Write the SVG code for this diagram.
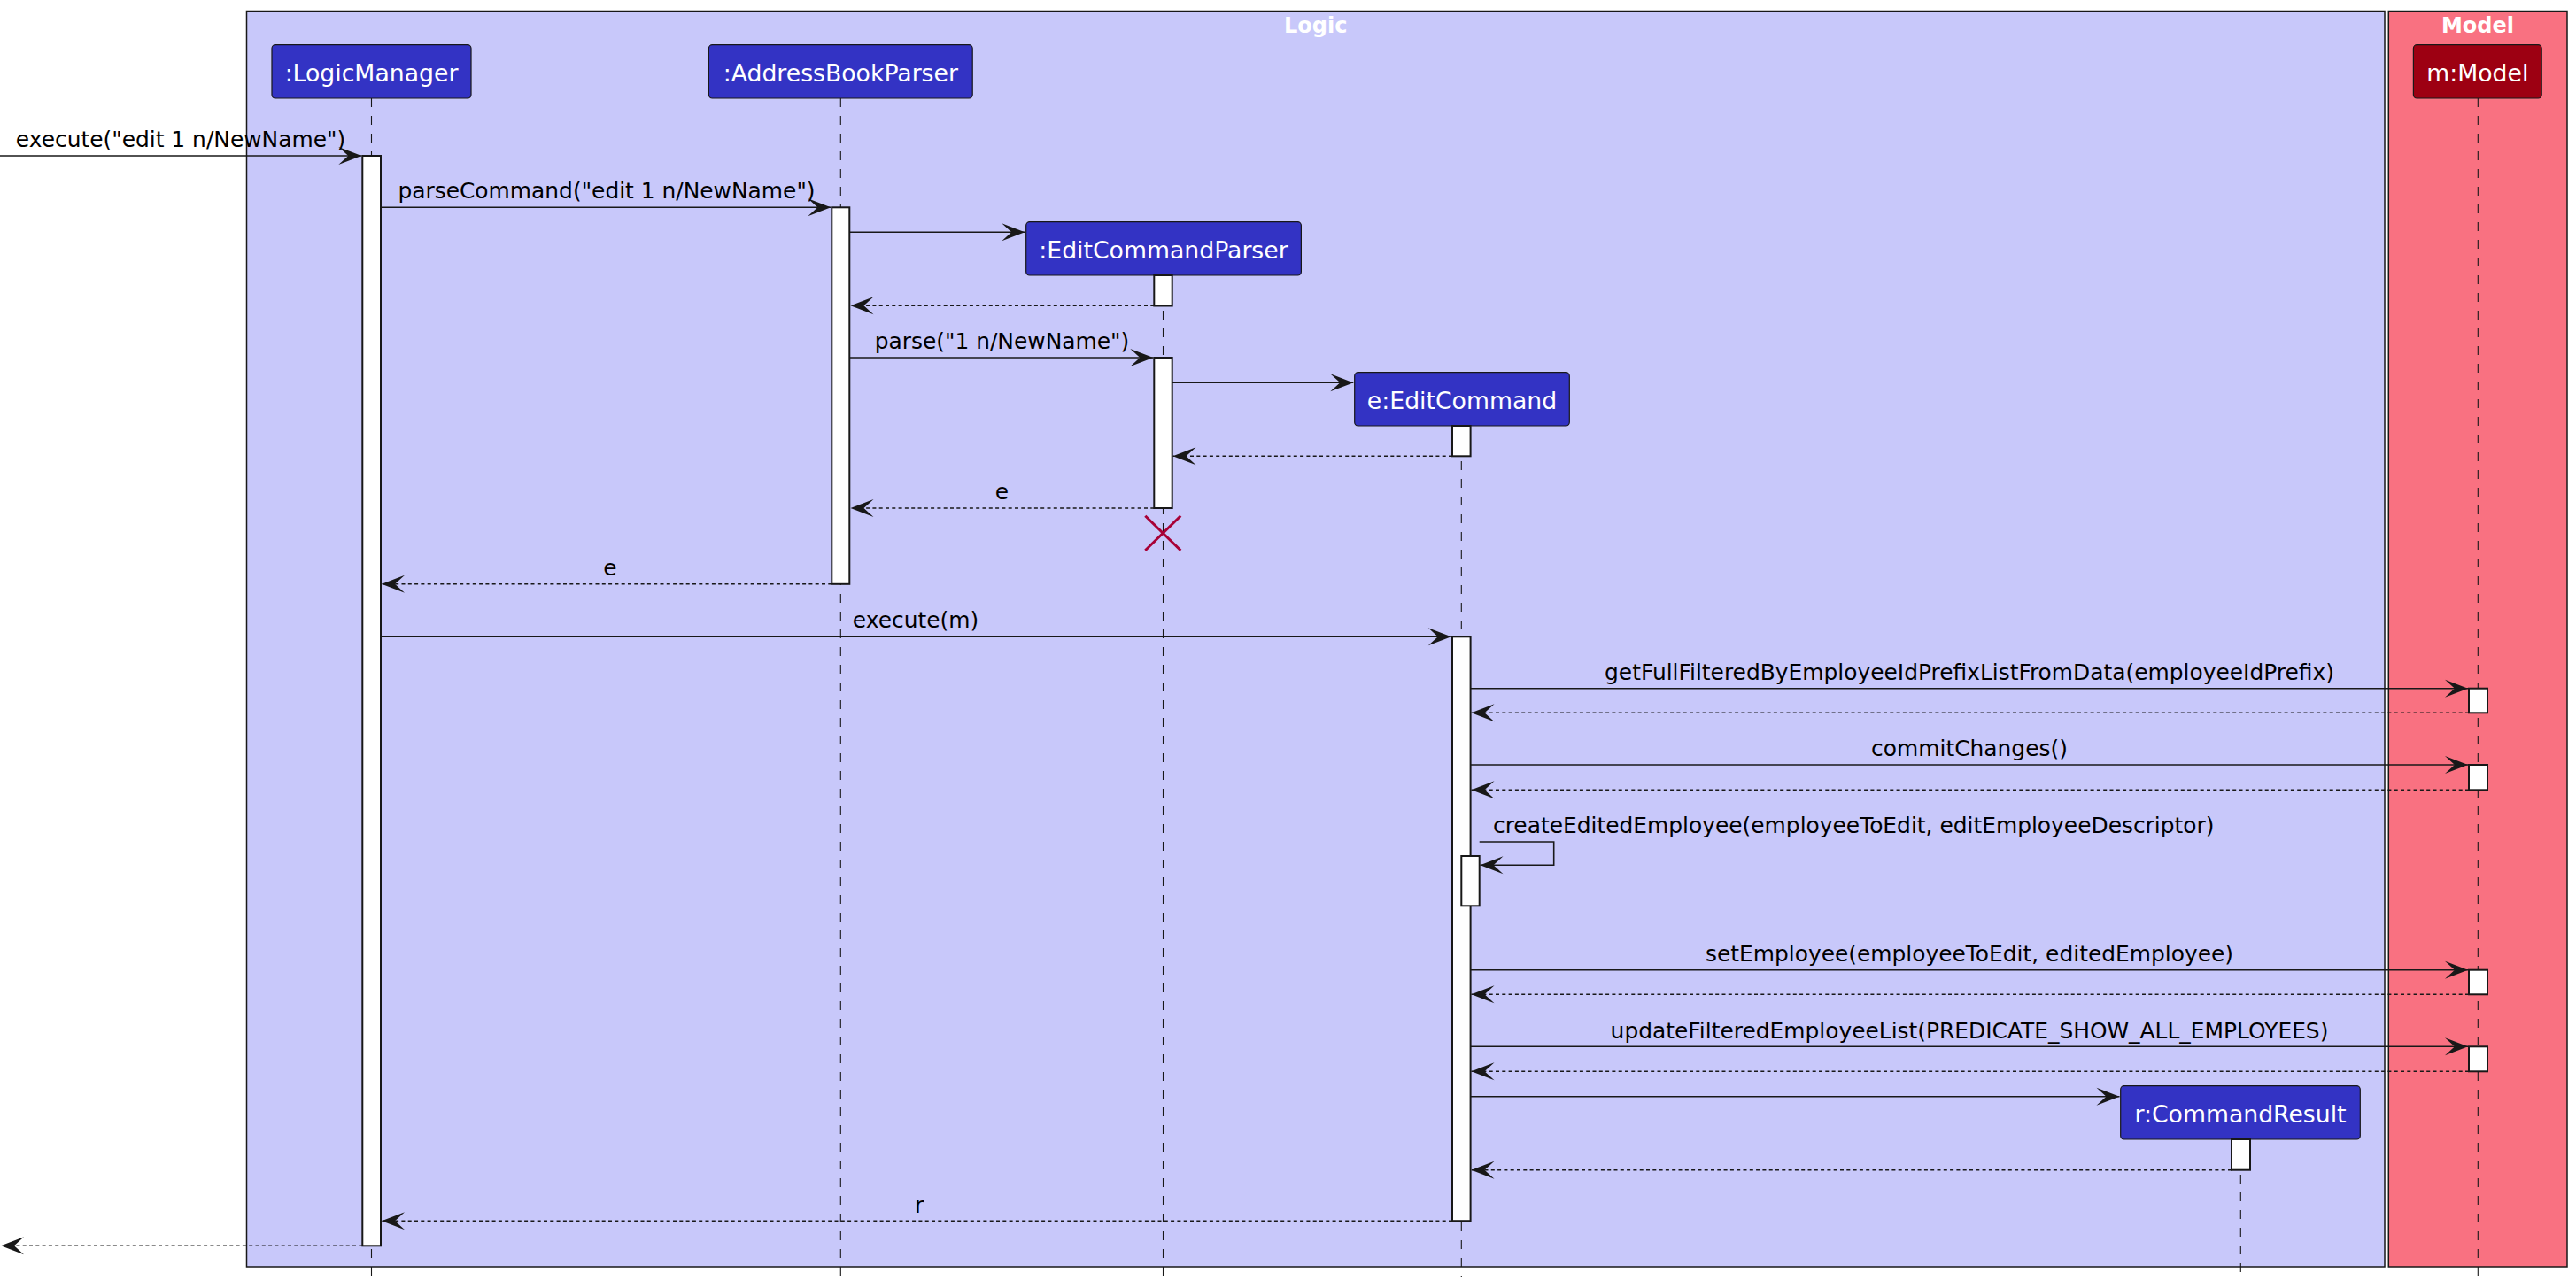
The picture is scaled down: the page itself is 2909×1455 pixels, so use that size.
<svg xmlns="http://www.w3.org/2000/svg" width="2909" height="1455" viewBox="0 0 2909 1455">
<style>
  text { font-family: "DejaVu Sans", "Liberation Sans", sans-serif; fill: #000; }
  .ptext { font-size: 26.7px; fill: #FFFFFF; text-anchor: middle; }
  .title { font-size: 24px; font-weight: bold; fill: #FFFFFF; text-anchor: middle; }
  .lbl { font-size: 24.9px; text-anchor: middle; }
  .lbll { font-size: 24.9px; text-anchor: start; }
  .part { fill: #3333C4; stroke: #181818; stroke-width: 1.2; }
  .mpart { fill: #9D0012; stroke: #181818; stroke-width: 1.2; }
  .life { stroke: #181818; stroke-width: 1.1; stroke-dasharray: 10,10; fill: none; }
  .act { fill: #FFFFFF; stroke: #181818; stroke-width: 2; }
  .msg { stroke: #181818; stroke-width: 1.6; fill: none; marker-end: url(#arr); }
  .ret { stroke: #181818; stroke-width: 1.6; fill: none; stroke-dasharray: 4,3.3; marker-end: url(#arr); }
</style>
<defs>
  <marker id="arr" markerUnits="userSpaceOnUse" markerWidth="28" markerHeight="22" viewBox="0 0 28 22" refX="27" refY="11" orient="auto">
    <path d="M1,1 L27,11 L1,21 L12,11 Z" fill="#181818" stroke="none"/>
  </marker>
</defs>
<rect x="0" y="0" width="2909" height="1455" fill="#FFFFFF"/>

<g id="box-logic">
  <rect x="278.5" y="12.5" width="2414.5" height="1418.5" fill="#C8C8FA" stroke="#181818" stroke-width="1.5"/>
  <text class="title" x="1485.8" y="36.5">Logic</text>
</g>
<g id="box-model">
  <rect x="2697.3" y="12.5" width="201.7" height="1418.5" fill="#F97181" stroke="#181818" stroke-width="1.5"/>
  <text class="title" x="2798" y="36.5">Model</text>
</g>

<g id="lifelines">
  <line class="life" x1="419.5" y1="111" x2="419.5" y2="1443"/>
  <line class="life" x1="949.3" y1="111" x2="949.3" y2="1443"/>
  <line class="life" x1="1313.5" y1="311" x2="1313.5" y2="1443"/>
  <line class="life" x1="1650.3" y1="481" x2="1650.3" y2="1443"/>
  <line class="life" x1="2530.3" y1="1287" x2="2530.3" y2="1443"/>
  <line class="life" x1="2798.3" y1="111" x2="2798.3" y2="1443"/>
</g>

<g id="LogicManager">
  <rect class="part" x="307" y="50.7" width="225" height="60.3" rx="4"/>
  <text class="ptext" x="419.5" y="91.5">:LogicManager</text>
  <rect class="act" x="409.3" y="176" width="20.7" height="1231.3"/>
</g>
<g id="AddressBookParser">
  <rect class="part" x="800.4" y="50.7" width="297.8" height="60.3" rx="4"/>
  <text class="ptext" x="949.3" y="91.5">:AddressBookParser</text>
  <rect class="act" x="939.3" y="234.3" width="20" height="425.5"/>
</g>
<g id="EditCommandParser">
  <rect class="part" x="1158.7" y="250.7" width="310.7" height="60.3" rx="4"/>
  <text class="ptext" x="1314" y="291.5">:EditCommandParser</text>
  <rect class="act" x="1303.3" y="311" width="20.4" height="34.5"/>
  <rect class="act" x="1303.3" y="404" width="20.4" height="170"/>
  <g id="destroy" stroke="#A80036" stroke-width="3">
    <line x1="1293.3" y1="582.7" x2="1333.3" y2="621.7"/>
    <line x1="1333.3" y1="582.7" x2="1293.3" y2="621.7"/>
  </g>
</g>
<g id="EditCommand">
  <rect class="part" x="1529.7" y="420.7" width="242.6" height="60.3" rx="4"/>
  <text class="ptext" x="1651" y="461.5">e:EditCommand</text>
  <rect class="act" x="1640" y="481" width="20.6" height="34.3"/>
  <rect class="act" x="1640" y="719.3" width="20.6" height="659.9"/>
  <rect class="act" x="1650.3" y="967" width="20.4" height="56.3"/>
</g>
<g id="CommandResult">
  <rect class="part" x="2394.7" y="1226.7" width="270.6" height="60.3" rx="4"/>
  <text class="ptext" x="2530" y="1267.5">r:CommandResult</text>
  <rect class="act" x="2520" y="1287" width="21" height="34.7"/>
</g>
<g id="Model">
  <rect class="mpart" x="2725.4" y="50.7" width="144.8" height="60.3" rx="4"/>
  <text class="ptext" x="2797.8" y="91.5">m:Model</text>
  <rect class="act" x="2788" y="777.7" width="21" height="27.6"/>
  <rect class="act" x="2788" y="864" width="21" height="28.3"/>
  <rect class="act" x="2788" y="1095.7" width="21" height="27.6"/>
  <rect class="act" x="2788" y="1182.3" width="21" height="28"/>
</g>

<g id="connectors">
  <line class="msg" x1="0" y1="176" x2="408.3" y2="176"/>
  <text class="lbl" x="204" y="166">execute("edit 1 n/NewName")</text>

  <line class="msg" x1="430" y1="234.3" x2="938.3" y2="234.3"/>
  <text class="lbl" x="685" y="224.3">parseCommand("edit 1 n/NewName")</text>

  <line class="msg" x1="959.3" y1="262.3" x2="1157.3" y2="262.3"/>

  <line class="ret" x1="1303.3" y1="345.3" x2="960.5" y2="345.3"/>

  <line class="msg" x1="959.3" y1="404" x2="1302.3" y2="404"/>
  <text class="lbl" x="1131.5" y="394">parse("1 n/NewName")</text>

  <line class="msg" x1="1323.7" y1="432.3" x2="1528.3" y2="432.3"/>

  <line class="ret" x1="1640" y1="515.3" x2="1324.5" y2="515.3"/>

  <line class="ret" x1="1303.3" y1="574" x2="960.5" y2="574"/>
  <text class="lbl" x="1131.5" y="564">e</text>

  <line class="ret" x1="939.3" y1="659.8" x2="431" y2="659.8"/>
  <text class="lbl" x="688.8" y="650">e</text>

  <line class="msg" x1="430" y1="719.3" x2="1638.8" y2="719.3"/>
  <text class="lbl" x="1034" y="709.3">execute(m)</text>

  <line class="msg" x1="1660.6" y1="777.7" x2="2787" y2="777.7"/>
  <text class="lbl" x="2224" y="768">getFullFilteredByEmployeeIdPrefixListFromData(employeeIdPrefix)</text>
  <line class="ret" x1="2788" y1="805.3" x2="1661.5" y2="805.3"/>

  <line class="msg" x1="1660.6" y1="864" x2="2787" y2="864"/>
  <text class="lbl" x="2224" y="854.3">commitChanges()</text>
  <line class="ret" x1="2788" y1="892.3" x2="1661.5" y2="892.3"/>

  <path class="msg" d="M1670.7,951 L1754.7,951 L1754.7,977.3 L1671.5,977.3"/>
  <text class="lbll" x="1686" y="940.7">createEditedEmployee(employeeToEdit, editEmployeeDescriptor)</text>

  <line class="msg" x1="1660.6" y1="1095.7" x2="2787" y2="1095.7"/>
  <text class="lbl" x="2224" y="1086">setEmployee(employeeToEdit, editedEmployee)</text>
  <line class="ret" x1="2788" y1="1123.3" x2="1661.5" y2="1123.3"/>

  <line class="msg" x1="1660.6" y1="1182.3" x2="2787" y2="1182.3"/>
  <text class="lbl" x="2224" y="1172.5">updateFilteredEmployeeList(PREDICATE_SHOW_ALL_EMPLOYEES)</text>
  <line class="ret" x1="2788" y1="1210.3" x2="1661.5" y2="1210.3"/>

  <line class="msg" x1="1660.6" y1="1238.7" x2="2393.5" y2="1238.7"/>

  <line class="ret" x1="2520" y1="1321.7" x2="1661.5" y2="1321.7"/>

  <line class="ret" x1="1640" y1="1379.3" x2="431" y2="1379.3"/>
  <text class="lbl" x="1038" y="1369.5">r</text>

  <line class="ret" x1="409.3" y1="1407.3" x2="1" y2="1407.3"/>
</g>
</svg>
